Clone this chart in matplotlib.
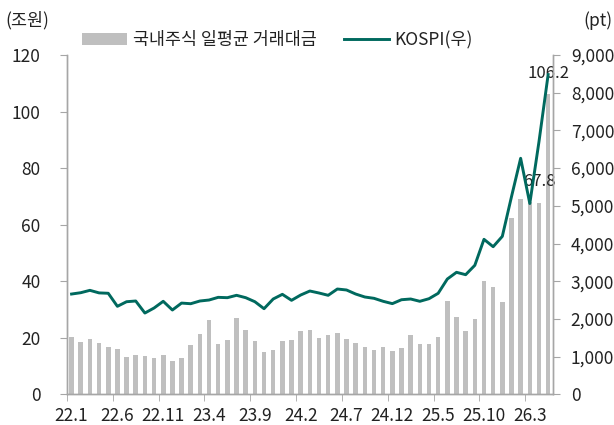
import matplotlib
matplotlib.use("Agg")
import matplotlib.pyplot as plt
from matplotlib.ticker import FuncFormatter

plt.rcParams['font.family'] = ['Noto Sans CJK KR', 'DejaVu Sans']

# monthly, 22.1 .. 26.5
tick_labels = ["22.1", "22.6", "22.11", "23.4", "23.9", "24.2",
               "24.7", "24.12", "25.5", "25.10", "26.3"]

# 국내주식 일평균 거래대금 (조원)
turnover = [20.4, 18.4, 19.7, 18.3, 16.6, 16.0, 13.1, 14.0, 13.7, 12.7,
            14.0, 11.7, 13.0, 17.5, 21.4, 26.3, 17.8, 19.1, 26.9, 22.9,
            18.9, 14.9, 15.7, 18.7, 19.2, 22.4, 22.7, 20.0, 20.9, 21.6,
            19.4, 18.1, 16.6, 15.7, 16.7, 15.2, 16.4, 21.0, 17.7, 17.8,
            20.3, 32.9, 27.5, 22.5, 26.5, 40.1, 37.9, 32.7, 62.2, 69.0,
            68.1, 67.8, 106.2]

# KOSPI (pt)
kospi = [2660, 2695, 2758, 2690, 2680, 2334, 2456, 2475, 2156, 2289,
         2467, 2236, 2420, 2403, 2475, 2501, 2572, 2563, 2626, 2563,
         2456, 2271, 2528, 2652, 2493, 2634, 2740, 2687, 2626, 2793,
         2767, 2660, 2581, 2546, 2467, 2405, 2509, 2528, 2467, 2536,
         2679, 3058, 3236, 3173, 3422, 4111, 3915, 4190, 5241, 6260,
         5060, 6700, 8480]

labelled = [51, 52]  # bars with value labels

GRAY = "#BFBFBF"
TEAL = "#00695E"
AXC = "#A6A6A6"
TXT = "#222222"

x = list(range(len(turnover)))

fig = plt.figure(figsize=(6.14, 4.25), dpi=100)
ax = fig.add_axes([0.1091, 0.0722, 0.7911, 0.7984])
ax2 = ax.twinx()

bars = ax.bar(x, turnover, width=0.5, color=GRAY, label="국내주식 일평균 거래대금")
line, = ax2.plot(x, kospi, color=TEAL, lw=2.1, label="KOSPI(우)")

for i in labelled:
    ax.annotate(f"{turnover[i]:.1f}", (x[i], turnover[i]), xytext=(0, 9),
                textcoords="offset points", ha="center", va="bottom",
                fontsize=12, color=TXT)

ax.set_xlim(-0.5, len(x) - 0.5)
ax.set_ylim(0, 120)
ax.set_yticks(range(0, 121, 20))
ax2.set_ylim(0, 9000)
ax2.set_yticks(range(0, 9001, 1000))
ax2.yaxis.set_major_formatter(FuncFormatter(lambda v, p: f"{int(v):,}"))

# labels at category centres, tick marks at category boundaries
major = list(range(0, len(x), 5))
ax.set_xticks(major)
ax.set_xticklabels(tick_labels)
ax.set_xticks([m - 0.5 for m in major], minor=True)
ax.tick_params(axis="x", which="major", length=0, pad=9, labelsize=12.5, colors=TXT)
ax.tick_params(axis="x", which="minor", length=5, color=AXC, direction="out")
ax.tick_params(axis="y", length=5, pad=14, labelsize=12.5, colors=TXT, color=AXC)
ax2.tick_params(axis="y", length=5, pad=8, labelsize=12.5, colors=TXT, color=AXC)

for a in (ax, ax2):
    a.spines["top"].set_visible(False)
    for s in ("left", "right", "bottom"):
        a.spines[s].set_color(AXC)
        a.spines[s].set_linewidth(1.0)

fig.text(0.008, 0.952, "(조원)", fontsize=12.5, color=TXT, ha="left", va="center")
fig.text(0.997, 0.952, "(pt)", fontsize=12.5, color=TXT, ha="right", va="center")

fig.legend([bars, line], ["국내주식 일평균 거래대금", "KOSPI(우)"],
           loc="center", bbox_to_anchor=(0.452, 0.906), ncol=2, frameon=False,
           fontsize=12.5, handlelength=2.6, handletextpad=0.3, columnspacing=1.6,
           labelcolor=TXT)

fig.savefig("out.png", dpi=100)
